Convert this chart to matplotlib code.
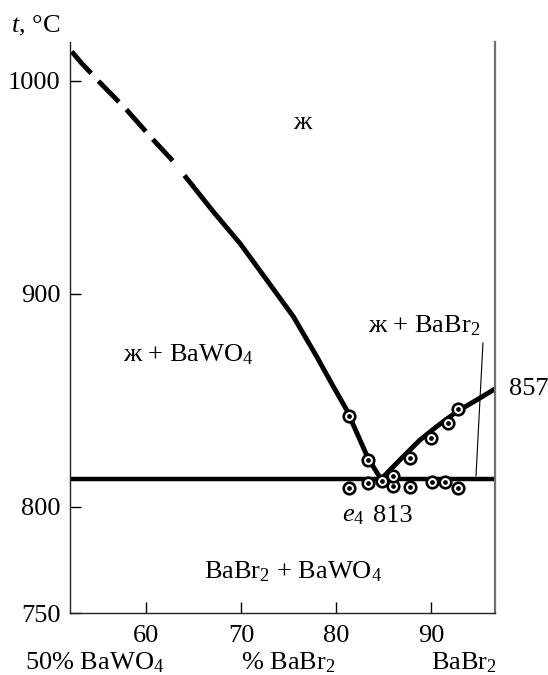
import matplotlib
matplotlib.use("Agg")
import matplotlib.pyplot as plt

plt.rcParams["font.family"] = "serif"
plt.rcParams["font.serif"] = ["Liberation Serif", "DejaVu Serif"]
plt.rcParams["mathtext.fontset"] = "custom"
plt.rcParams["mathtext.rm"] = "Liberation Serif"
plt.rcParams["mathtext.it"] = "Liberation Serif:italic"
plt.rcParams["font.size"] = 19

# Ликвидус BaWO4 (пунктир + сплошная)
liq_dash_x = [52.18, 53.23, 55.16, 57.97, 60.77, 63.4]
liq_dash_t = [1013.8, 1008.3, 999.2, 986.4, 972.3, 959.7]
liq_solid_x = [64.21, 67.08, 69.89, 72.71, 75.51, 77.97, 79.72, 81.13, 83.37, 84.75]
liq_solid_t = [954.7, 938.6, 923.7, 906.5, 889.3, 870.5, 856.4, 845.4, 822.8, 812.8]

# Ликвидус BaBr2
liq_br_x = [84.75, 85.68, 87.08, 88.84, 90.6, 92.71, 94.81, 96.56]
liq_br_t = [812.8, 817.2, 823.5, 831.3, 837.6, 844.6, 850.1, 854.8]

# Эвтектика
eut_t = 813
eut_x = [52.0, 96.6]

# Экспериментальные точки
pts_x = [81.37, 83.37, 81.37, 83.37, 84.81, 86.03, 87.79, 90.07, 91.47, 92.88,
         85.97, 87.79, 90.0, 91.76, 92.81]
pts_t = [842.6, 821.9, 808.7, 811.1, 812.0, 809.8, 809.3, 811.7, 811.7, 808.6,
         814.4, 823.0, 832.1, 839.1, 845.7]

# Выноска к надписи ж + BaBr2
lead_x = [95.47, 94.74]
lead_t = [876.9, 814.4]

fig = plt.figure(figsize=(5.48, 6.75), dpi=100)
ax = fig.add_axes([70 / 548, 1 - 613 / 675, 425 / 548, 571 / 675])

ax.plot(liq_dash_x, liq_dash_t, color="black", lw=3.5, dashes=(6, 2.2), solid_capstyle="butt")
ax.plot(liq_solid_x, liq_solid_t, color="black", lw=3.5, solid_joinstyle="round")
ax.plot(liq_br_x, liq_br_t, color="black", lw=3.5, solid_joinstyle="round")
ax.plot(eut_x, [eut_t, eut_t], color="black", lw=3.2)
ax.plot(lead_x, lead_t, color="black", lw=0.8)

ax.plot(pts_x, pts_t, "o", ms=8.3, mfc="white", mec="black", mew=1.9, zorder=5)
ax.plot(pts_x, pts_t, "o", ms=2.4, color="black", zorder=6)

ax.set_xlim(52, 96.74)
ax.set_ylim(750, 1018.3)
ax.set_xticks([60, 70, 80, 90])
ax.set_yticks([750, 800, 900, 1000])

ax.spines["top"].set_visible(False)
ax.spines["left"].set_color("#222222")
ax.spines["bottom"].set_color("#222222")
ax.spines["left"].set_linewidth(1.0)
ax.spines["bottom"].set_linewidth(1.0)
ax.spines["right"].set_color("#707070")
ax.spines["right"].set_linewidth(1.6)

ax.tick_params(axis="y", direction="in", length=8, width=1.0, pad=7, labelsize=19)
ax.tick_params(axis="x", direction="in", length=8, width=1.0, pad=9, labelsize=19)

# Надписи полей
ax.text(76.4, 977.5, "ж", ha="center", va="baseline")
ax.text(57.58, 868.1, "ж + BaWO$_4$", ha="left", va="baseline")
ax.text(83.37, 882.0, "ж + BaBr$_2$", ha="left", va="baseline")
ax.text(66.1, 766.4, "BaBr$_2$ + BaWO$_4$", ha="left", va="baseline")
ax.text(80.63, 792.9, "$e_4$", ha="left", va="baseline")
ax.text(83.89, 792.9, "813", ha="left", va="baseline")
ax.text(98.2, 852.4, "857", ha="left", va="baseline", clip_on=False)

fig.text(11 / 548, 1 - 32 / 675, "$t$, °C", ha="left", va="baseline")
fig.text(25 / 548, 1 - 669 / 675, "50% BaWO$_4$", ha="left", va="baseline")
fig.text(241 / 548, 1 - 669 / 675, "% BaBr$_2$", ha="left", va="baseline")
fig.text(431 / 548, 1 - 669 / 675, "BaBr$_2$", ha="left", va="baseline")

fig.savefig("out.png", dpi=100)
